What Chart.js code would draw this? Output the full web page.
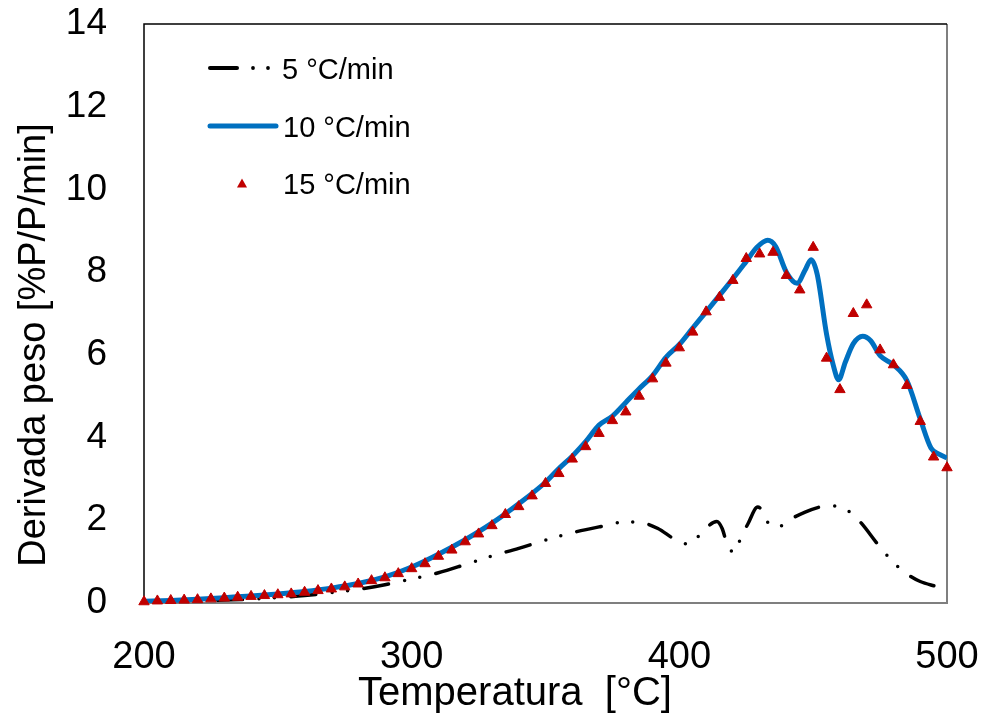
<!DOCTYPE html>
<html>
<head>
<meta charset="utf-8">
<title>Derivada peso</title>
<script src="https://cdn.jsdelivr.net/npm/chart.js@4.4.1/dist/chart.umd.min.js"></script>
<style>
  body { margin: 0; background: #fff; }
  #wrap { width: 993px; height: 719px; }
</style>
</head>
<body>
<div id="wrap"><canvas id="dtgChart" width="993" height="719"></canvas></div>
<script>
// 5 °C/min (dash-dot-dot black line)
const temps5 = [200, 210, 220, 230, 240, 250, 260, 270, 280, 290, 300, 310, 320, 330, 340, 350, 360, 370, 380, 386,
  392, 397, 400, 402, 405, 409, 414, 416, 418, 420.5, 423, 425.6, 429.3, 431.2, 433.7, 437.2, 441.7, 447, 453, 456.5,
  460, 464, 468, 474, 477.6, 481.5, 486, 490, 496];
const rate5 = [0.02, 0.03, 0.05, 0.07, 0.09, 0.13, 0.18, 0.25, 0.33, 0.44, 0.58, 0.73, 0.93, 1.14, 1.32, 1.52, 1.70, 1.84, 1.96, 1.94,
  1.80, 1.59, 1.47, 1.43, 1.47, 1.75, 1.97, 1.80, 1.39, 1.23, 1.58, 1.91, 2.32, 2.22, 1.89, 1.85, 2.03, 2.20, 2.33, 2.36,
  2.31, 2.19, 1.93, 1.43, 1.15, 0.89, 0.66, 0.52, 0.40];

// 10 °C/min (solid blue line)
const temps10 = [200, 210, 220, 230, 240, 250, 260, 270, 280, 290, 300, 310, 320, 330, 340, 350, 355, 360, 365, 370,
  375, 380, 385, 390, 395, 400, 405, 410, 415, 420, 425, 429, 433, 436, 440, 444, 447, 449.2, 451.5, 455,
  457.5, 459.5, 462, 465, 468.5, 471.5, 475, 480, 485, 490, 494, 497, 500];
const rate10 = [0.04, 0.06, 0.09, 0.13, 0.17, 0.22, 0.28, 0.36, 0.47, 0.63, 0.87, 1.18, 1.53, 1.93, 2.40, 2.92, 3.25, 3.55, 3.90, 4.30,
  4.52, 4.85, 5.18, 5.50, 5.94, 6.25, 6.65, 7.04, 7.44, 7.84, 8.26, 8.60, 8.77, 8.62, 8.00, 7.73, 8.05, 8.30, 7.95, 6.50,
  5.75, 5.40, 5.82, 6.27, 6.45, 6.34, 5.98, 5.76, 5.38, 4.45, 3.75, 3.60, 3.51];

// 15 °C/min (red triangles)
const temps15 = [200, 205, 210, 215, 220, 225, 230, 235, 240, 245, 250, 255, 260, 265, 270, 275, 280, 285, 290, 295,
  300, 305, 310, 315, 320, 325, 330, 335, 340, 345, 350, 355, 360, 365, 370, 375, 380, 385, 390, 395,
  400, 405, 410, 415, 420, 425, 430, 435, 440, 445, 450, 455, 460, 465, 470, 475, 480, 485, 490, 495, 500];
const rate15 = [0.03, 0.05, 0.06, 0.07, 0.08, 0.10, 0.12, 0.14, 0.16, 0.18, 0.20, 0.22, 0.26, 0.30, 0.34, 0.39, 0.46, 0.54, 0.61, 0.71,
  0.83, 0.95, 1.13, 1.28, 1.48, 1.67, 1.87, 2.14, 2.33, 2.59, 2.89, 3.13, 3.48, 3.78, 4.10, 4.41, 4.62, 5.00, 5.42, 5.80,
  6.17, 6.55, 7.04, 7.39, 7.80, 8.33, 8.44, 8.48, 7.92, 7.57, 8.60, 5.92, 5.16, 7.00, 7.21, 6.12, 5.76, 5.26, 4.39, 3.53, 3.27];

const xTicks = [200, 300, 400, 500];
const yTicks = [0, 2, 4, 6, 8, 10, 12, 14];
const xTitle = "Temperatura  [°C]";
const yTitle = "Derivada peso [%P/P/min]";

const FONT = "'Liberation Sans', Arial, sans-serif";

function toPoints(xs, ys) {
  return xs.map((x, i) => ({ x: x, y: ys[i] }));
}

// plot frame, axis titles and legend inside the plot area
const frameAndLegend = {
  id: "frameAndLegend",
  beforeDatasetsDraw(chart) {
    const { ctx, chartArea: a } = chart;
    ctx.save();
    ctx.lineWidth = 2;
    ctx.strokeStyle = "#7f7f7f";
    ctx.beginPath();
    ctx.moveTo(a.right, a.top);
    ctx.lineTo(a.right, a.bottom);
    ctx.lineTo(a.left, a.bottom);
    ctx.stroke();
    ctx.strokeStyle = "#000";
    ctx.lineWidth = 1.5;
    ctx.beginPath();
    ctx.moveTo(a.left, a.bottom);
    ctx.lineTo(a.left, a.top);
    ctx.lineTo(a.right, a.top);
    ctx.stroke();
    ctx.restore();
  },
  afterDraw(chart) {
    const ctx = chart.ctx;
    const ds = chart.data.datasets;
    const black = ds.find(d => d.label === "5 °C/min");
    const blue = ds.find(d => d.label === "10 °C/min");
    const red = ds.find(d => d.label === "15 °C/min");
    ctx.save();

    // axis titles
    ctx.fillStyle = "#000";
    ctx.textAlign = "center";
    ctx.textBaseline = "middle";
    ctx.font = "40px " + FONT;
    ctx.fillText(xTitle, 515, 694);
    ctx.save();
    ctx.translate(35, 345);
    ctx.rotate(-Math.PI / 2);
    ctx.font = "38px " + FONT;
    ctx.fillText(yTitle, 0, 0);
    ctx.restore();

    // 5 °C/min sample
    ctx.strokeStyle = black.borderColor;
    ctx.lineCap = "round";
    ctx.lineWidth = 4;
    ctx.beginPath();
    ctx.moveTo(210, 68);
    ctx.lineTo(237, 68);
    ctx.stroke();
    ctx.fillStyle = black.borderColor;
    [253, 268].forEach(x => {
      ctx.beginPath();
      ctx.arc(x, 68, 1.9, 0, Math.PI * 2);
      ctx.fill();
    });
    // 10 °C/min sample
    ctx.strokeStyle = blue.borderColor;
    ctx.lineWidth = 5;
    ctx.beginPath();
    ctx.moveTo(210, 126);
    ctx.lineTo(276, 126);
    ctx.stroke();
    // 15 °C/min sample
    ctx.fillStyle = red.backgroundColor;
    ctx.beginPath();
    ctx.moveTo(242, 178.5);
    ctx.lineTo(247, 187.5);
    ctx.lineTo(237, 187.5);
    ctx.closePath();
    ctx.fill();
    // labels
    ctx.fillStyle = "#000";
    ctx.font = "29px " + FONT;
    ctx.textAlign = "left";
    ctx.textBaseline = "alphabetic";
    ctx.fillText(black.label, 282, 78.5);
    ctx.fillText(blue.label, 283, 136.5);
    ctx.fillText(red.label, 283, 194);
    ctx.restore();
  }
};

const ctx = document.getElementById("dtgChart").getContext("2d");
new Chart(ctx, {
  type: "line",
  data: {
    datasets: [
      {
        label: "15 °C/min",
        data: toPoints(temps15, rate15),
        showLine: false,
        pointStyle: "triangle",
        pointRadius: 6,
        pointHoverRadius: 6,
        backgroundColor: "#C00000",
        borderColor: "#C00000",
        pointBorderWidth: 1,
        clip: false,
        order: 0,
      },
      {
        label: "10 °C/min",
        data: toPoints(temps10, rate10),
        borderColor: "#0070C0",
        backgroundColor: "#0070C0",
        borderWidth: 5,
        borderJoinStyle: "round",
        pointRadius: 0,
        cubicInterpolationMode: "monotone",
        fill: false,
        order: 1,
      },
      {
        label: "5 °C/min",
        data: toPoints(temps5, rate5),
        borderColor: "#000000",
        backgroundColor: "#000000",
        borderWidth: 3.5,
        borderDash: [25, 16.5, 0, 15.5, 0, 16.5],
        borderCapStyle: "round",
        pointRadius: 0,
        cubicInterpolationMode: "monotone",
        fill: false,
        order: 2,
      },
    ],
  },
  options: {
    responsive: false,
    animation: false,
    layout: { padding: { top: 24, right: 46, bottom: 0, left: 0 } },
    plugins: {
      legend: { display: false },
      tooltip: { enabled: false },
    },
    scales: {
      x: {
        type: "linear",
        min: xTicks[0],
        max: xTicks[xTicks.length - 1],
        afterBuildTicks: s => { s.ticks = xTicks.map(v => ({ value: v })); },
        afterFit: s => {
          s.height = 116;
          s.paddingLeft = 0;
          s.paddingRight = 0;
        },
        grid: { display: false, drawTicks: false },
        border: { display: false },
        ticks: { color: "#000", padding: 32, maxRotation: 0, font: { size: 38, family: FONT } },
        title: { display: false },
      },
      y: {
        min: yTicks[0],
        max: yTicks[yTicks.length - 1],
        afterBuildTicks: s => { s.ticks = yTicks.map(v => ({ value: v })); },
        afterFit: s => {
          s.width = 144;
          s.paddingTop = 0;
          s.paddingBottom = 0;
        },
        grid: { display: false, drawTicks: false },
        border: { display: false },
        ticks: { color: "#000", padding: 37, font: { size: 37, family: FONT } },
        title: { display: false },
      },
    },
  },
  plugins: [frameAndLegend],
});
</script>
</body>
</html>
